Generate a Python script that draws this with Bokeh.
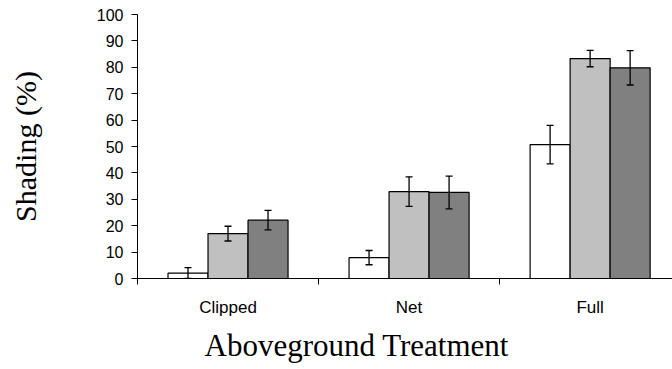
from bokeh.plotting import figure
from bokeh.models import (ColumnDataSource, Range1d, FixedTicker, Whisker, TeeHead, Title)
from bokeh.embed import file_html
from bokeh.resources import INLINE

categories = ["Clipped", "Net", "Full"]
white_vals = [2.0, 7.9, 50.7]
white_err = [2.1, 2.7, 7.3]
light_vals = [17.0, 32.9, 83.3]
light_err = [2.8, 5.6, 3.1]
dark_vals = [22.1, 32.6, 79.8]
dark_err = [3.7, 6.2, 6.5]
y_ticks = [0, 10, 20, 30, 40, 50, 60, 70, 80, 90, 100]

series = [
    (white_vals, white_err, "#FFFFFF", -1),
    (light_vals, light_err, "#C0C0C0", 0),
    (dark_vals, dark_err, "#808080", 1),
]

p = figure(width=672, height=369, output_backend="svg", toolbar_location=None,
           x_range=Range1d(0, 2.955), y_range=Range1d(0, 100),
           min_border_left=137, min_border_right=0, min_border_top=14, min_border_bottom=0)
p.outline_line_color = None
p.xgrid.visible = False
p.ygrid.visible = False
p.background_fill_color = "white"
p.border_fill_color = "white"

bw = 0.221
centers = [i + 0.5 for i in range(len(categories))]
for vals, errs, color, k in series:
    xs = [c + k * bw for c in centers]
    src = ColumnDataSource(dict(x=xs, top=vals,
                                upper=[v + e for v, e in zip(vals, errs)],
                                lower=[max(v - e, 0) for v, e in zip(vals, errs)]))
    p.vbar(x="x", top="top", bottom=0, width=bw, source=src,
           fill_color=color, line_color="black", line_width=1.2)
    w = Whisker(source=src, base="x", upper="upper", lower="lower", level="annotation",
                line_color="black", line_width=1.3,
                upper_head=TeeHead(size=7, line_color="black", line_width=1.3),
                lower_head=TeeHead(size=7, line_color="black", line_width=1.3))
    p.add_layout(w)

# x axis
xa = p.xaxis[0]
xa.ticker = FixedTicker(ticks=centers, minor_ticks=[0, 1, 2, 3])
xa.major_label_overrides = {c: name for c, name in zip(centers, categories)}
xa.major_tick_out = 0
xa.major_tick_in = 0
xa.minor_tick_out = 6
xa.minor_tick_in = 0
xa.axis_line_color = "black"
xa.minor_tick_line_color = "black"
xa.major_label_text_font = "Liberation Sans"
xa.major_label_text_font_size = "17px"
xa.major_label_text_color = "black"
xa.major_label_standoff = 13

# y axis
ya = p.yaxis[0]
ya.ticker = FixedTicker(ticks=y_ticks)
ya.major_tick_out = 6
ya.major_tick_in = 0
ya.minor_tick_out = 0
ya.minor_tick_in = 0
ya.axis_line_color = "black"
ya.major_tick_line_color = "black"
ya.major_label_text_font = "Liberation Sans"
ya.major_label_text_font_size = "16px"
ya.major_label_text_color = "black"
ya.major_label_standoff = 8
ya.axis_label = "Shading (%)"
ya.axis_label_text_font = "Liberation Serif"
ya.axis_label_text_font_size = "30px"
ya.axis_label_text_font_style = "normal"
ya.axis_label_text_color = "black"
ya.axis_label_standoff = 52

xtitle = Title(text="Aboveground Treatment", align="left", offset=67, standoff=13,
               text_font="Liberation Serif", text_font_size="31px", text_color="black",
               text_font_style="normal")
p.add_layout(xtitle, "below")

open("out.html", "w").write(file_html(p, INLINE))
